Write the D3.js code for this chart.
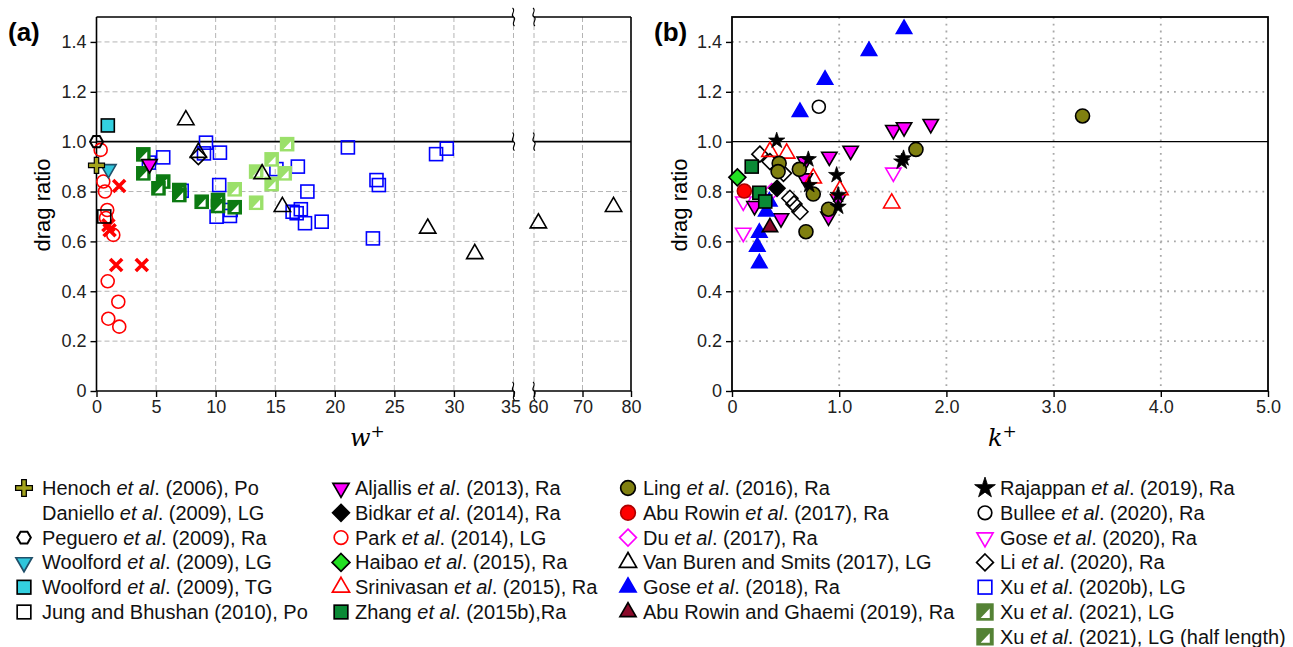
<!DOCTYPE html>
<html><head><meta charset="utf-8">
<script src="https://cdn.jsdelivr.net/npm/d3@7"></script>
<style>body{margin:0;background:#fff;} svg{display:block;font-family:Arial,"Liberation Sans",sans-serif;}</style>
</head><body><svg id="c" width="1293" height="647"></svg>
<script>
// ---------------- DATA ----------------
// Panel (a): [w+, drag ratio]
const henochA = [[0.0, 0.905]];
const danielloA = [[1.9, 0.822], [1.0, 0.665], [1.1, 0.645], [1.65, 0.505], [3.8, 0.505]];
const pegueroA = [[0.0, 1.0]];
const woolfordLGA = [[1.0, 0.89]];
const woolfordTGA = [[0.95, 1.065]];
const jungA = [[0.65, 0.70]];
const aljallisA = [[4.45, 0.91]];
const parkA = [[0.35, 0.967], [0.57, 0.84], [0.71, 0.80], [0.9, 0.726], [0.8, 0.694], [1.41, 0.626], [0.94, 0.44], [1.83, 0.358], [0.99, 0.29], [1.91, 0.258]];
const vanBurenA = [[7.5, 1.087], [8.55, 0.956], [13.9, 0.87], [15.6, 0.739], [27.8, 0.652], [31.75, 0.55], [60.9, 0.673], [76.4, 0.739]];
const liA = [[8.55, 0.94]];
const xu2020bA = [[4.4, 0.916], [5.6, 0.937], [7.15, 0.803], [9.19, 0.996], [9.02, 0.953], [10.36, 0.956], [10.3, 0.826], [10.08, 0.699], [11.2, 0.702], [11.26, 0.726], [15.1, 0.89], [16.9, 0.90], [17.7, 0.80], [16.46, 0.719], [16.8, 0.713], [17.15, 0.729], [17.5, 0.673], [18.9, 0.679], [21.1, 0.977], [28.5, 0.95], [29.4, 0.972], [23.5, 0.846], [23.7, 0.826], [23.2, 0.612]];
const xu2021A = [[3.93, 0.949], [3.93, 0.873], [5.6, 0.84], [5.2, 0.813], [6.95, 0.806], [6.95, 0.786], [8.83, 0.759], [10.2, 0.766], [10.2, 0.742], [11.6, 0.737]];
const xu2021HalfA = [[11.6, 0.809], [13.4, 0.755], [13.4, 0.88], [14.7, 0.929], [14.7, 0.83], [15.8, 0.873], [16.0, 0.99]];

// Panel (b): [k+, drag ratio]
const gose2020B = [[0.105, 0.76], [0.105, 0.635], [1.505, 0.876]];
const aljallisB = [[0.21, 0.742], [0.457, 0.693], [0.68, 0.853], [0.68, 0.92], [0.908, 0.94], [1.107, 0.964], [1.505, 1.047], [1.605, 1.058], [1.854, 1.071], [0.9, 0.70], [0.99, 0.77]];
const liB = [[0.26, 0.95], [0.354, 0.92], [0.48, 0.873], [0.54, 0.773], [0.578, 0.75], [0.634, 0.719]];
const duB = [[0.37, 0.80]];
const bidkarB = [[0.42, 0.813]];
const gose2018B = [[0.348, 0.76], [0.32, 0.72], [0.255, 0.635], [0.236, 0.579], [0.255, 0.512], [0.634, 1.119], [0.868, 1.248], [1.278, 1.364], [1.605, 1.452]];
const abuRowinGhaemiB = [[0.354, 0.657]];
const srinivasanB = [[0.354, 0.96], [0.51, 0.953], [0.758, 0.853], [1.007, 0.806], [1.49, 0.753]];
const zhangB = [[0.184, 0.9], [0.255, 0.795], [0.31, 0.76]];
const haibaoB = [[0.05, 0.857]];
const abuRowin2017B = [[0.115, 0.802]];
const lingB = [[0.44, 0.913], [0.43, 0.88], [0.628, 0.889], [0.758, 0.79], [0.9, 0.729], [0.69, 0.639], [1.716, 0.969], [3.27, 1.103]];
const rajappanB = [[0.417, 1.004], [0.712, 0.929], [0.72, 0.826], [0.976, 0.866], [0.99, 0.786], [0.99, 0.739], [1.6, 0.933], [1.583, 0.92]];
const bulleeB = [[0.81, 1.14]];

// Tick values
const yTicks = [0, 0.2, 0.4, 0.6, 0.8, 1.0, 1.2, 1.4];
const xTicksA1 = [0, 5, 10, 15, 20, 25, 30, 35];
const xTicksA2 = [60, 70, 80];
const xTicksB = [0, 1, 2, 3, 4, 5];

// Legend columns: [key, before-italic, italic, after]
const legendCol1 = [["henoch","Henoch ","et al",". (2006), Po"],["daniello","Daniello ","et al",". (2009), LG"],["peguero","Peguero ","et al",". (2009), Ra"],["woolfordLG","Woolford ","et al",". (2009), LG"],["woolfordTG","Woolford ","et al",". (2009), TG"],["jung","Jung and Bhushan (2010), Po","",""]];
const legendCol2 = [["aljallis","Aljallis ","et al",". (2013), Ra"],["bidkar","Bidkar ","et al",". (2014), Ra"],["park","Park ","et al",". (2014), LG"],["haibao","Haibao ","et al",". (2015), Ra"],["srinivasan","Srinivasan ","et al",". (2015), Ra"],["zhang","Zhang ","et al",". (2015b),Ra"]];
const legendCol3 = [["ling","Ling ","et al",". (2016), Ra"],["abuRowin2017","Abu Rowin ","et al",". (2017), Ra"],["du","Du ","et al",". (2017), Ra"],["vanBuren","Van Buren and Smits (2017), LG","",""],["gose2018","Gose ","et al",". (2018), Ra"],["abuRowinGhaemi","Abu Rowin and Ghaemi (2019), Ra","",""]];
const legendCol4 = [["rajappan","Rajappan ","et al",". (2019), Ra"],["bullee","Bullee ","et al",". (2020), Ra"],["gose2020","Gose ","et al",". (2020), Ra"],["li","Li ","et al",". (2020), Ra"],["xu2020b","Xu ","et al",". (2020b), LG"],["xu2021","Xu ","et al",". (2021), LG"],["xu2021half","Xu ","et al",". (2021), LG (half length)"]];

// ---------------- STYLES ----------------
const S = {
  henoch:{shape:"plus",fill:"#a3a31c",stroke:"#000",r:8},
  daniello:{shape:"x",fill:"none",stroke:"#ff0000",r:6},
  peguero:{shape:"hex",fill:"none",stroke:"#000",r:6.5},
  woolfordLG:{shape:"tridown",fill:"#2fc6dc",stroke:"#20506a",r:8},
  woolfordTG:{shape:"square",fill:"#33d0e0",stroke:"#000",r:6.5},
  jung:{shape:"square",fill:"none",stroke:"#000",r:6.5},
  aljallis:{shape:"tridown",fill:"#ff00ff",stroke:"#000",r:8},
  bidkar:{shape:"diamond",fill:"#000",stroke:"#000",r:8},
  park:{shape:"circle",fill:"none",stroke:"#ff0000",r:6.5},
  haibao:{shape:"diamond",fill:"#22e022",stroke:"#000",r:8.5},
  srinivasan:{shape:"tri",fill:"none",stroke:"#ff0000",r:8.5},
  zhang:{shape:"square",fill:"#0a8a35",stroke:"#000",r:6.5},
  ling:{shape:"circle",fill:"#808010",stroke:"#000",r:7},
  abuRowin2017:{shape:"circle",fill:"#ff0000",stroke:"#b00000",r:7},
  du:{shape:"diamond",fill:"none",stroke:"#ff00ff",r:8},
  vanBuren:{shape:"tri",fill:"none",stroke:"#000",r:8.5},
  gose2018:{shape:"tri",fill:"#0000ff",stroke:"#0000ff",r:8},
  abuRowinGhaemi:{shape:"tri",fill:"#8a0a2a",stroke:"#000",r:8},
  rajappan:{shape:"star",fill:"#000",stroke:"#000",r:9},
  rajappanLeg:{shape:"star",fill:"#000",stroke:"#000",r:11},
  bullee:{shape:"circle",fill:"none",stroke:"#000",r:6.5},
  gose2020:{shape:"tridown",fill:"none",stroke:"#ff00ff",r:8},
  li:{shape:"diamond",fill:"none",stroke:"#000",r:8},
  xu2020b:{shape:"square",fill:"none",stroke:"#0000ff",r:6.5},
  xu2021:{shape:"half",fill:"#0c7a12",stroke:"#0c7a12",r:6.5},
  xu2021half:{shape:"half",fill:"#9be06a",stroke:"#9be06a",r:6.5},
  xu2021Leg:{shape:"half",fill:"#548235",stroke:"#548235",r:7.5},
};

// ---------------- SVG ----------------
const svg = d3.select("#c");
svg.append("rect").attr("width",1293).attr("height",647).attr("fill","#fff");

const y = d3.scaleLinear().domain([0,1.5]).range([391,17]);
const xa1 = d3.scaleLinear().domain([0,35]).range([96.5,513.5]);
const xa2 = d3.scaleLinear().domain([60,80]).range([534,631]);
const xb = d3.scaleLinear().domain([0,5]).range([732,1268]);
const xa = v => v <= 35 ? xa1(v) : xa2(v);

function drawMarker(g, st, cx, cy, k) {
  k = k || 1;
  const r = st.r * k;
  const sw = 1.6 * k;
  const gg = g.append("g").attr("transform", `translate(${cx},${cy})`);
  switch (st.shape) {
    case "circle":
      gg.append("circle").attr("r", r).attr("fill", st.fill).attr("stroke", st.stroke).attr("stroke-width", sw); break;
    case "square":
      gg.append("rect").attr("x",-r).attr("y",-r).attr("width",2*r).attr("height",2*r).attr("fill", st.fill).attr("stroke", st.stroke).attr("stroke-width", sw); break;
    case "half":
      gg.append("rect").attr("x",-r).attr("y",-r).attr("width",2*r).attr("height",2*r).attr("fill", st.fill).attr("stroke", st.stroke).attr("stroke-width", sw);
      gg.append("path").attr("d",`M${-r*0.55},${r*0.75}L${r*0.6},${-r*0.45}L${r*0.6},${r*0.75}Z`).attr("fill","#fff");
      break;
    case "diamond":
      gg.append("path").attr("d",`M0,${-r}L${r},0L0,${r}L${-r},0Z`).attr("fill", st.fill).attr("stroke", st.stroke).attr("stroke-width", sw); break;
    case "tri":
      gg.append("path").attr("d", d3.symbol(d3.symbolTriangle, r*r*1.6)()).attr("fill", st.fill).attr("stroke", st.stroke).attr("stroke-width", sw).attr("stroke-linejoin","miter"); break;
    case "tridown":
      gg.append("path").attr("d", d3.symbol(d3.symbolTriangle, r*r*1.6)()).attr("transform","rotate(180)").attr("fill", st.fill).attr("stroke", st.stroke).attr("stroke-width", sw); break;
    case "star":
      gg.append("path").attr("d", d3.symbol(d3.symbolStar, r*r*1.0)()).attr("fill", st.fill).attr("stroke", st.stroke).attr("stroke-width", 0.8*k); break;
    case "hex": {
      const pts = d3.range(6).map(i => { const a = Math.PI/3*i; return [r*Math.cos(a), r*Math.sin(a)]; });
      gg.append("path").attr("d", d3.line()(pts)+"Z").attr("fill", st.fill).attr("stroke", st.stroke).attr("stroke-width", sw*1.2); break; }
    case "plus": {
      const t = 2.2*k;
      gg.append("path").attr("d",`M${-t},${-r}H${t}V${-t}H${r}V${t}H${t}V${r}H${-t}V${t}H${-r}V${-t}H${-t}Z`).attr("fill", st.fill).attr("stroke", st.stroke).attr("stroke-width", 1.2*k); break; }
    case "x":
      gg.append("path").attr("d",`M${-r},${-r}L${r},${r}M${-r},${r}L${r},${-r}`).attr("stroke", st.stroke).attr("stroke-width", 3.6*k).attr("fill","none"); break;
  }
}

function plotSeries(g, data, st, xs) {
  data.forEach(d => drawMarker(g, st, xs(d[0]), y(d[1])));
}

const FONT = "Arial, 'Liberation Sans', sans-serif";
const gridA = "#b4b4b4";
// ---------- Panel (a) ----------
const ga = svg.append("g");
[[96.5,513.5],[534,631]].forEach(([x0,x1]) => {
  yTicks.filter(v => v > 0 && v !== 1.0).forEach(v => {
    ga.append("line").attr("x1",x0).attr("x2",x1).attr("y1",y(v)).attr("y2",y(v)).attr("stroke",gridA).attr("stroke-width",1).attr("stroke-dasharray","5,3");
  });
});
xTicksA1.filter(v => v > 0).forEach(v => {
  ga.append("line").attr("x1",xa1(v)).attr("x2",xa1(v)).attr("y1",17).attr("y2",391).attr("stroke",gridA).attr("stroke-dasharray","5,3");
});
[60,70].forEach(v => {
  ga.append("line").attr("x1",xa2(v)).attr("x2",xa2(v)).attr("y1",17).attr("y2",391).attr("stroke",gridA).attr("stroke-dasharray","5,3");
});
const frameA = [[96.5,17,513.5,17],[96.5,391,513.5,391],[96.5,17,96.5,391],[534,17,631,17],[534,391,631,391],[631,17,631,391],[96.5,y(1),513.5,y(1)],[534,y(1),631,y(1)]];
frameA.forEach(l => ga.append("line").attr("x1",l[0]).attr("y1",l[1]).attr("x2",l[2]).attr("y2",l[3]).attr("stroke","#000").attr("stroke-width",1.6));
[17, y(1), 391].forEach(yy => {
  [513.5, 534].forEach(xx => {
    ga.append("path").attr("d",`M${xx-1},${yy-9}C${xx+3},${yy-6} ${xx-4},${yy-2} ${xx},${yy}C${xx+4},${yy+2} ${xx-3},${yy+6} ${xx+1},${yy+9}`)
      .attr("fill","none").attr("stroke","#000").attr("stroke-width",1.1);
  });
});
const axYa = ga.append("g").attr("transform","translate(96.5,0)")
  .call(d3.axisLeft(y).tickValues(yTicks).tickSize(6).tickFormat(d => d === 0 ? "0" : d3.format(".1f")(d)));
const axXa1 = ga.append("g").attr("transform","translate(0,391)")
  .call(d3.axisBottom(xa1).tickValues(xTicksA1).tickSize(6).tickFormat(d3.format("d")));
const axXa2 = ga.append("g").attr("transform","translate(0,391)")
  .call(d3.axisBottom(xa2).tickValues(xTicksA2).tickSize(6).tickFormat(d3.format("d")));
[axYa, axXa1, axXa2].forEach(a => {
  a.attr("font-family", FONT).attr("font-size", 18);
  a.select(".domain").remove();
  a.selectAll("line").attr("stroke","#000").attr("stroke-width",1.4);
  a.selectAll("text").attr("fill","#222");
});
axYa.selectAll("text").attr("x",-10);
[axXa1, axXa2].forEach(a => a.selectAll("text").attr("y",9));
axXa1.selectAll("text").filter(d => d === 35).attr("dx", -3);
axXa2.selectAll("text").filter(d => d === 60).attr("dx", 4);
const pa = ga.append("g");
plotSeries(pa, xu2020bA, S.xu2020b, xa);
plotSeries(pa, xu2021A, S.xu2021, xa);
plotSeries(pa, xu2021HalfA, S.xu2021half, xa);
plotSeries(pa, vanBurenA, S.vanBuren, xa);
plotSeries(pa, liA, S.li, xa);
plotSeries(pa, aljallisA, S.aljallis, xa);
plotSeries(pa, parkA, S.park, xa);
plotSeries(pa, danielloA, S.daniello, xa);
plotSeries(pa, jungA, S.jung, xa);
plotSeries(pa, woolfordLGA, S.woolfordLG, xa);
plotSeries(pa, woolfordTGA, S.woolfordTG, xa);
plotSeries(pa, pegueroA, S.peguero, xa);
plotSeries(pa, henochA, S.henoch, xa);
ga.append("text").attr("x",8).attr("y",41).attr("font-size",26).attr("font-weight","bold").text("(a)");
ga.append("text").attr("transform","translate(50,205) rotate(-90)").attr("text-anchor","middle").attr("font-size",22).text("drag ratio");
const wl = ga.append("text").attr("x",350).attr("y",446).attr("font-family","'DejaVu Serif','Liberation Serif',serif").attr("font-style","italic").attr("font-size",24);
wl.append("tspan").text("w");
wl.append("tspan").attr("font-style","normal").attr("font-size",17).attr("dy",-9).text("+");

// ---------- Panel (b) ----------
const gb = svg.append("g");
yTicks.filter(v => v > 0 && v !== 1.0).forEach(v => {
  gb.append("line").attr("x1",732).attr("x2",1268).attr("y1",y(v)).attr("y2",y(v)).attr("stroke","#a8a8a8").attr("stroke-width",1.8).attr("stroke-dasharray","1.8,5");
});
xTicksB.filter(v => v > 0 && v < 5).forEach(v => {
  gb.append("line").attr("x1",xb(v)).attr("x2",xb(v)).attr("y1",17).attr("y2",391).attr("stroke","#a8a8a8").attr("stroke-width",1.8).attr("stroke-dasharray","1.8,5");
});
gb.append("line").attr("x1",732).attr("x2",1268).attr("y1",y(1)).attr("y2",y(1)).attr("stroke","#000").attr("stroke-width",1.4);
gb.append("rect").attr("x",732).attr("y",17).attr("width",536).attr("height",374).attr("fill","none").attr("stroke","#000").attr("stroke-width",1.8);
const axYb = gb.append("g").attr("transform","translate(732,0)")
  .call(d3.axisLeft(y).tickValues(yTicks).tickSize(6).tickFormat(d => d === 0 ? "0" : d3.format(".1f")(d)));
const axXb = gb.append("g").attr("transform","translate(0,391)")
  .call(d3.axisBottom(xb).tickValues(xTicksB).tickSize(6).tickFormat(d => d === 0 ? "0" : d3.format(".1f")(d)));
[axYb, axXb].forEach(a => {
  a.attr("font-family", FONT).attr("font-size", 18);
  a.select(".domain").remove();
  a.selectAll("line").attr("stroke","#000").attr("stroke-width",1.4);
  a.selectAll("text").attr("fill","#222");
});
axYb.selectAll("text").attr("x",-10);
axXb.selectAll("text").attr("y",9);
const pb = gb.append("g");
plotSeries(pb, gose2020B, S.gose2020, xb);
plotSeries(pb, aljallisB, S.aljallis, xb);
plotSeries(pb, liB, S.li, xb);
plotSeries(pb, duB, S.du, xb);
plotSeries(pb, bidkarB, S.bidkar, xb);
plotSeries(pb, gose2018B, S.gose2018, xb);
plotSeries(pb, abuRowinGhaemiB, S.abuRowinGhaemi, xb);
plotSeries(pb, srinivasanB, S.srinivasan, xb);
plotSeries(pb, zhangB, S.zhang, xb);
plotSeries(pb, haibaoB, S.haibao, xb);
plotSeries(pb, abuRowin2017B, S.abuRowin2017, xb);
plotSeries(pb, lingB, S.ling, xb);
plotSeries(pb, rajappanB, S.rajappan, xb);
plotSeries(pb, bulleeB, S.bullee, xb);
gb.append("text").attr("x",654).attr("y",41).attr("font-size",26).attr("font-weight","bold").text("(b)");
gb.append("text").attr("transform","translate(687,205) rotate(-90)").attr("text-anchor","middle").attr("font-size",22).text("drag ratio");
const kl = gb.append("text").attr("x",988).attr("y",446).attr("font-family","'DejaVu Serif','Liberation Serif',serif").attr("font-style","italic").attr("font-size",24);
kl.append("tspan").text("k");
kl.append("tspan").attr("font-style","normal").attr("font-size",17).attr("dy",-9).text("+");

// ---------- Legend ----------
const lg = svg.append("g");
const cols = [[legendCol1, 24, 42], [legendCol2, 341, 355], [legendCol3, 628, 643], [legendCol4, 985, 1000]];
cols.forEach(([items, ix, tx]) => {
  items.forEach((it, i) => {
    const cy = 488 + i * 24.8;
    const key = it[0];
    if (key !== "daniello") {
      let st = S[key];
      if (key === "xu2021" || key === "xu2021half") st = S.xu2021Leg;
      if (key === "rajappan") st = S.rajappanLeg;
      drawMarker(lg, st, ix, cy, 1.05);
    }
    const t = lg.append("text").attr("x", tx).attr("y", cy + 7).attr("font-size", 20).attr("fill","#111");
    t.append("tspan").text(it[1]);
    if (it[2]) t.append("tspan").attr("font-style","italic").text(it[2]);
    if (it[3]) t.append("tspan").text(it[3]);
  });
});
</script></body></html>
